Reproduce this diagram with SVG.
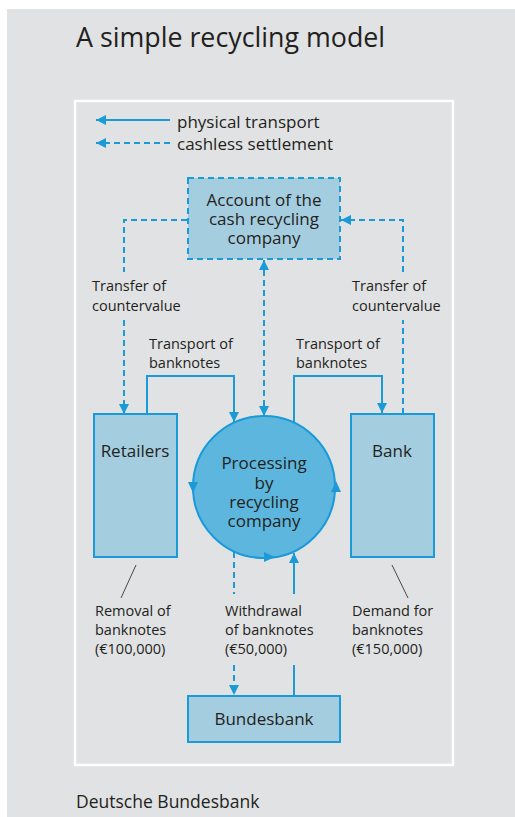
<svg xmlns="http://www.w3.org/2000/svg" width="515" height="817" viewBox="0 0 515 817">
  <style>
    .t { font-family: "Open Sans", "Noto Sans", "Liberation Sans", sans-serif; fill: #231f20; }
    .node { font-size: 17px; text-anchor: middle; }
    .lbl { font-size: 14.5px; }
    .box { fill: #a5cde0; stroke: #1a9ad6; stroke-width: 2; }
    .solid { fill: none; stroke: #1a9ad6; stroke-width: 2; }
    .dash { fill: none; stroke: #1a9ad6; stroke-width: 2; stroke-dasharray: 6 4; }
    .lead { fill: none; stroke: #231f20; stroke-width: 0.8; }
  </style>
  <defs>
    <marker id="ah" viewBox="0 0 10 10" refX="10" refY="5" markerWidth="10" markerHeight="10" markerUnits="userSpaceOnUse" orient="auto-start-reverse">
      <path d="M0,0 L10,5 L0,10 z" fill="#1a9ad6"/>
    </marker>
  </defs>

  <!-- background panel -->
  <rect x="7" y="9" width="508" height="808" fill="#e1e2e4"/>
  <rect x="75" y="101" width="378" height="664" fill="none" stroke="#ffffff" stroke-width="2.5"/>

  <text class="t" x="76" y="47" font-size="26.8">A simple recycling model</text>
  <text class="t" x="76" y="808" font-size="17.5">Deutsche Bundesbank</text>

  <!-- legend -->
  <g id="legend">
    <line class="solid" x1="170" y1="120" x2="96" y2="120" marker-end="url(#ah)"/>
    <line class="dash" x1="170" y1="143" x2="96" y2="143" marker-end="url(#ah)"/>
    <text class="t" x="177" y="128" font-size="17">physical transport</text>
    <text class="t" x="177" y="150" font-size="17">cashless settlement</text>
  </g>

  <!-- connectors -->
  <g id="connectors">
    <!-- account -> retailers -->
    <path class="dash" d="M187,220 H124 V272"/>
    <path class="dash" d="M124,320 V414" marker-end="url(#ah)"/>
    <!-- bank -> account -->
    <path class="dash" d="M403,414 V320"/>
    <path class="dash" d="M403,272 V220 H341" marker-end="url(#ah)"/>
    <!-- account <-> processing -->
    <line class="dash" x1="264" y1="260" x2="264" y2="416" marker-start="url(#ah)" marker-end="url(#ah)"/>
    <!-- transport of banknotes -->
    <path class="solid" d="M147,413 V376 H234 V422" marker-end="url(#ah)"/>
    <path class="solid" d="M294,422 V376 H382 V413" marker-end="url(#ah)"/>
    <!-- withdrawal -->
    <path class="dash" d="M234,552 V594"/>
    <path class="dash" d="M234,665 V695" marker-end="url(#ah)"/>
    <path class="solid" d="M294,695 V665"/>
    <path class="solid" d="M294,594 V553" marker-end="url(#ah)"/>
    <!-- leader lines -->
    <line class="lead" x1="136" y1="565" x2="121" y2="598"/>
    <line class="lead" x1="392" y1="565" x2="408" y2="598"/>

    <text class="t lbl" x="92" y="291">Transfer of</text>
    <text class="t lbl" x="92" y="311">countervalue</text>
    <text class="t lbl" x="352" y="291">Transfer of</text>
    <text class="t lbl" x="352" y="311">countervalue</text>
    <text class="t lbl" x="149" y="349">Transport of</text>
    <text class="t lbl" x="149" y="368">banknotes</text>
    <text class="t lbl" x="296" y="349">Transport of</text>
    <text class="t lbl" x="296" y="368">banknotes</text>
    <text class="t lbl" x="95" y="616">Removal of</text>
    <text class="t lbl" x="95" y="635">banknotes</text>
    <text class="t lbl" x="95" y="654">(€100,000)</text>
    <text class="t lbl" x="225" y="616">Withdrawal</text>
    <text class="t lbl" x="225" y="635">of banknotes</text>
    <text class="t lbl" x="225" y="654">(€50,000)</text>
    <text class="t lbl" x="352" y="616">Demand for</text>
    <text class="t lbl" x="352" y="635">banknotes</text>
    <text class="t lbl" x="352" y="654">(€150,000)</text>
  </g>

  <g id="account">
    <rect x="188" y="178" width="152" height="81" fill="#a5cde0" stroke="#1a9ad6" stroke-width="2" stroke-dasharray="6 4"/>
    <text class="t node" x="264" y="206">Account of the</text>
    <text class="t node" x="264" y="225">cash recycling</text>
    <text class="t node" x="264" y="244">company</text>
  </g>

  <g id="retailers">
    <rect class="box" x="94" y="414" width="83" height="143"/>
    <text class="t node" x="135" y="457">Retailers</text>
  </g>

  <g id="bank">
    <rect class="box" x="351" y="414" width="83" height="143"/>
    <text class="t node" x="392" y="457">Bank</text>
  </g>

  <g id="processing">
    <circle cx="264" cy="487" r="71" fill="#5db6de" stroke="#1a9ad6" stroke-width="2"/>
    <!-- direction marks on the circle -->
    <path d="M188,482 L198,482 L193,493 z" fill="#1a9ad6"/>
    <path d="M331,492 L341,492 L336,481 z" fill="#1a9ad6"/>
    <path d="M264,552 L275,557 L264,562 z" fill="#1a9ad6"/>
    <text class="t node" x="264" y="469">Processing</text>
    <text class="t node" x="264" y="489">by</text>
    <text class="t node" x="264" y="508">recycling</text>
    <text class="t node" x="264" y="527">company</text>
  </g>

  <g id="bundesbank">
    <rect class="box" x="188" y="696" width="152" height="46"/>
    <text class="t node" x="264" y="725">Bundesbank</text>
  </g>
</svg>
